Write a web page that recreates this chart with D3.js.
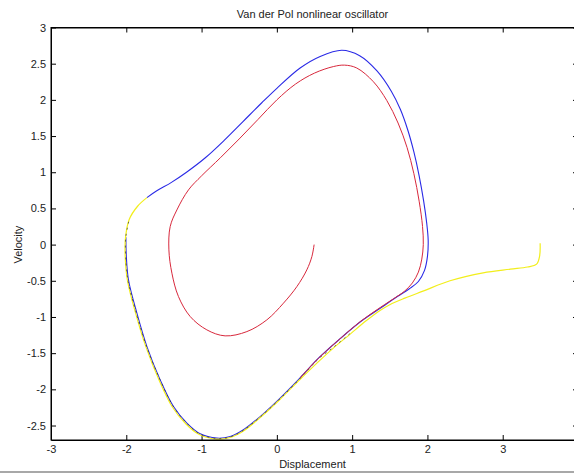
<!DOCTYPE html>
<html>
<head>
<meta charset="utf-8">
<script src="https://cdn.jsdelivr.net/npm/d3@7"></script>
<style>
  body { margin: 0; background: #fff; }
  text { font-family: "Liberation Sans", Arial, sans-serif; }
</style>
</head>
<body>
<div id="my_dataviz"></div>
<script>
// tick values
var xTicks = [-3, -2, -1, 0, 1, 2, 3, 4];
var yTicks = [-2.5, -2, -1.5, -1, -0.5, 0, 0.5, 1, 1.5, 2, 2.5, 3];

// trajectories, [displacement, velocity]
var blueCurve = [
  [-1.726, 0.649], [-1.60, 0.74], [-1.40, 0.86], [-1.20, 1.00], [-0.95, 1.20],
  [-0.70, 1.44], [-0.45, 1.70], [-0.20, 1.96], [0.0, 2.16], [0.309, 2.44],
  [0.575, 2.60], [0.863, 2.685], [1.10, 2.61], [1.33, 2.40], [1.52, 2.12],
  [1.64, 1.87], [1.74, 1.58], [1.82, 1.28], [1.89, 0.95], [1.95, 0.6],
  [1.99, 0.3], [2.01, 0.06], [2.0, -0.166], [1.96, -0.36], [1.88, -0.51],
  [1.76, -0.61], [1.60, -0.718], [1.372, -0.88], [1.106, -1.07], [0.841, -1.30],
  [0.553, -1.57], [0.309, -1.841], [0.044, -2.12], [-0.222, -2.376], [-0.444, -2.559],
  [-0.62, -2.652], [-0.797, -2.674], [-1.019, -2.615], [-1.195, -2.467], [-1.373, -2.238],
  [-1.55, -1.869], [-1.726, -1.409], [-1.859, -0.948], [-1.971, -0.488], [-2.0, -0.15],
  [-2.005, 0.10]
];

var redCurve = [
  [0.495, 0.0], [0.465, -0.166], [0.398, -0.349], [0.266, -0.58], [0.088, -0.809],
  [-0.133, -1.04], [-0.398, -1.202], [-0.687, -1.261], [-0.93, -1.178], [-1.151, -0.994],
  [-1.307, -0.718], [-1.394, -0.395], [-1.434, -0.073], [-1.417, 0.249], [-1.328, 0.479],
  [-1.174, 0.756], [-1.0, 0.95], [-0.75, 1.20], [-0.50, 1.46], [-0.25, 1.73],
  [0.0, 2.0], [0.25, 2.22], [0.50, 2.37], [0.75, 2.46], [0.90, 2.48],
  [1.062, 2.44], [1.283, 2.25], [1.461, 1.99], [1.61, 1.68], [1.73, 1.34],
  [1.82, 0.98], [1.89, 0.60], [1.935, 0.25], [1.945, 0.0], [1.925, -0.20],
  [1.88, -0.38], [1.80, -0.53], [1.70, -0.64], [1.594, -0.718], [1.372, -0.87],
  [1.106, -1.065], [0.841, -1.30], [0.553, -1.57], [0.309, -1.841]
];

var yellowCurve = [
  [3.497, 0.02], [3.49, -0.16], [3.45, -0.27], [3.33, -0.31], [3.10, -0.34],
  [2.74, -0.39], [2.30, -0.50], [1.95, -0.64], [1.70, -0.74], [1.50, -0.83],
  [1.37, -0.91], [1.19, -1.05], [0.97, -1.24], [0.75, -1.43], [0.55, -1.62],
  [0.31, -1.86], [0.04, -2.14], [-0.222, -2.39], [-0.444, -2.575], [-0.62, -2.665],
  [-0.80, -2.687], [-1.03, -2.625], [-1.21, -2.475], [-1.39, -2.24], [-1.565, -1.87],
  [-1.74, -1.41], [-1.875, -0.95], [-1.985, -0.49], [-2.015, -0.15], [-2.01, 0.10],
  [-1.96, 0.35], [-1.85, 0.53], [-1.726, 0.649]
];

var blackCurve = [
  [0.97, -1.23], [0.75, -1.42], [0.553, -1.58], [0.309, -1.85], [0.044, -2.13],
  [-0.222, -2.383], [-0.444, -2.567], [-0.62, -2.658], [-0.797, -2.68], [-1.019, -2.62],
  [-1.195, -2.47], [-1.373, -2.24], [-1.55, -1.87], [-1.73, -1.41], [-1.866, -0.95],
  [-1.978, -0.49], [-2.008, -0.15], [-2.007, 0.10], [-1.96, 0.35]
];

var svgW = 574, svgH = 473;
var margin = {top: 27.5, right: -4, bottom: 33, left: 51},
    width = svgW - margin.left - margin.right,
    height = svgH - margin.top - margin.bottom;

var svg = d3.select("#my_dataviz")
  .append("svg")
    .attr("width", svgW)
    .attr("height", svgH);

// grey figure edge at the bottom
svg.append("line")
  .attr("x1", 0).attr("x2", svgW)
  .attr("y1", 472).attr("y2", 472)
  .attr("stroke", "#a8a8a8")
  .attr("stroke-width", 2);

var g = svg.append("g")
  .attr("transform", "translate(" + margin.left + "," + margin.top + ")");

var x = d3.scaleLinear().domain([-3, 4]).range([0, width]);
var y = d3.scaleLinear().domain([-2.7, 3]).range([height, 0]);

// plain labels with a hyphen minus, like matlab
var fmt = function(d) { return String(d); };

// axes, ticks pointing inwards
g.append("g")
  .attr("class", "axis")
  .attr("transform", "translate(0," + height + ")")
  .call(d3.axisBottom(x).tickValues(xTicks).tickFormat(fmt).tickSizeInner(-5).tickSizeOuter(0).tickPadding(5));
g.append("g")
  .attr("class", "axis")
  .call(d3.axisLeft(y).tickValues(yTicks).tickFormat(fmt).tickSizeInner(-5).tickSizeOuter(0).tickPadding(5));
g.append("g")
  .attr("class", "axis")
  .call(d3.axisTop(x).tickValues(xTicks).tickSizeInner(-5).tickSizeOuter(0).tickFormat(""));
g.append("g")
  .attr("class", "axis")
  .attr("transform", "translate(" + width + ",0)")
  .call(d3.axisRight(y).tickValues(yTicks).tickSizeInner(-5).tickSizeOuter(0).tickFormat(""));

g.selectAll(".axis path, .axis line").attr("stroke", "#000");
g.selectAll(".axis text").attr("font-size", 11).attr("fill", "#222")
  .attr("font-family", "'Liberation Sans', Arial, sans-serif");

// trajectories
var line = d3.line()
  .x(function(d) { return x(d[0]); })
  .y(function(d) { return y(d[1]); })
  .curve(d3.curveCatmullRom);

g.append("path").datum(blueCurve)
  .attr("d", line).attr("fill", "none")
  .attr("stroke", "#2a2ae6").attr("stroke-width", 1.1);

g.append("path").datum(yellowCurve)
  .attr("d", line).attr("fill", "none")
  .attr("stroke", "#f2ee1c").attr("stroke-width", 1.2);

g.append("path").datum(blackCurve)
  .attr("d", line).attr("fill", "none")
  .attr("stroke", "#333").attr("stroke-width", 1)
  .attr("stroke-dasharray", "2,4").attr("opacity", 0.7);

g.append("path").datum(redCurve)
  .attr("d", line).attr("fill", "none")
  .attr("stroke", "#d8283c").attr("stroke-width", 1);

// box
g.append("rect")
  .attr("width", width).attr("height", height)
  .attr("fill", "none").attr("stroke", "#000");

// titles
svg.append("text")
  .attr("x", margin.left + width / 2 - 2).attr("y", 18)
  .attr("text-anchor", "middle").attr("font-size", 11).attr("fill", "#222")
  .text("Van der Pol nonlinear oscillator");

svg.append("text")
  .attr("x", margin.left + width / 2 - 2).attr("y", 468)
  .attr("text-anchor", "middle").attr("font-size", 11).attr("fill", "#222")
  .text("Displacement");

svg.append("text")
  .attr("transform", "translate(22," + (margin.top + y(0)) + ") rotate(-90)")
  .attr("text-anchor", "middle").attr("font-size", 11).attr("fill", "#222")
  .text("Velocity");
</script>
</body>
</html>
